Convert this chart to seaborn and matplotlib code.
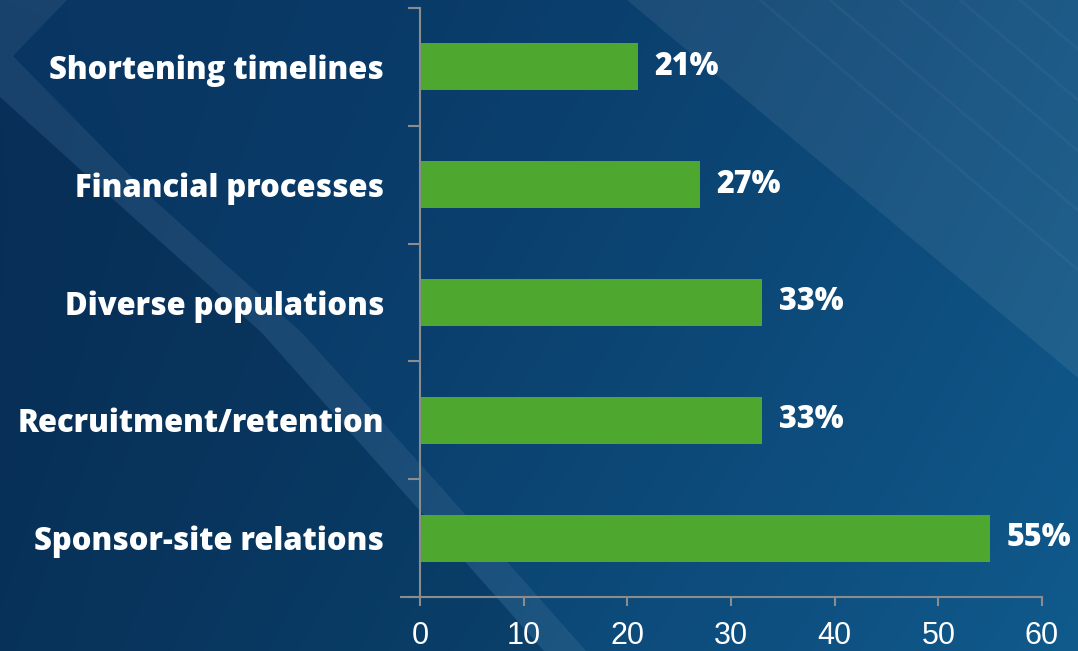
import numpy as np
import pandas as pd
import matplotlib
matplotlib.use("Agg")
import matplotlib.pyplot as plt
from matplotlib.patches import Polygon
import seaborn as sns

# data
categories = ["Shortening timelines", "Financial processes", "Diverse populations",
              "Recruitment/retention", "Sponsor-site relations"]
values = [21, 27, 33, 33, 55]
value_labels = ["21%", "27%", "33%", "33%", "55%"]
x_ticks = [0, 10, 20, 30, 40, 50, 60]

df = pd.DataFrame({"category": categories, "value": values})

sns.set_style("ticks")
plt.rcParams["font.family"] = ["Open Sans", "DejaVu Sans"]

W, H = 1078, 651
fig = plt.figure(figsize=(W / 100, H / 100), dpi=100)

# background: blue gradient with diagonal light bands
bg = fig.add_axes([0, 0, 1, 1], zorder=0)
yy, xx = np.mgrid[0:H, 0:W]
t = np.clip(0.75 * xx / W + 0.25 * yy / H, 0, 1)
dark = np.array([0x06, 0x2c, 0x56]) / 255
light = np.array([0x10, 0x5a, 0x8c]) / 255
top_tint = np.array([0x0c, 0x3f, 0x6e]) / 255
img = dark + (light - dark) * t[..., None]
vert = (1 - yy / H)[..., None] * (1 - xx / W)[..., None]
img = img * (1 - 0.5 * vert) + top_tint * 0.5 * vert
bg.imshow(img, extent=[0, W, H, 0], aspect="auto", interpolation="bilinear")
bg.set_xlim(0, W)
bg.set_ylim(H, 0)
bg.axis("off")

# darker lower-left area under the band
bg.add_patch(Polygon([[0, 97], [114, 200], [262, 333], [381, 467], [499, 600], [544, H], [0, H]],
                     closed=True, facecolor="black", alpha=0.10, lw=0))
# right lighter region
bg.add_patch(Polygon([[627, 0], [W, 0], [W, 378]], closed=True,
                     facecolor="white", alpha=0.07, lw=0))
# diagonal band from top-left
bg.add_patch(Polygon([[0, 0], [67, 0], [13, 56], [154, 200], [302, 333], [423, 467],
                      [541, 600], [586, H], [544, H], [499, 600], [381, 467],
                      [262, 333], [114, 200], [0, 97]],
                     closed=True, facecolor="white", alpha=0.065, lw=0))
# faint streaks top right
for x0 in [760, 830, 900, 960, 1020]:
    bg.plot([x0, x0 + 330], [0, 280], color="white", alpha=0.035, lw=2)

# main chart
ax = fig.add_axes([420 / W, 1 - 597 / H, 622 / W, 589 / H], zorder=2)
ax.set_facecolor("none")
sns.barplot(data=df, x="value", y="category", orient="h", color="#4ea72e",
            saturation=1, width=0.4, linewidth=0, ax=ax)

ax.bar_label(ax.containers[0], labels=value_labels, padding=12,
             color="white", fontsize=22, fontweight="heavy")

ax.set_xlim(0, 60)
ax.set_ylim(len(categories) - 0.5, -0.5)
ax.set_xticks(x_ticks)
ax.set_xlabel("")
ax.set_ylabel("")

axis_grey = "#8c8c8c"
for side in ["top", "right"]:
    ax.spines[side].set_visible(False)
for side in ["left", "bottom"]:
    ax.spines[side].set_color(axis_grey)
    ax.spines[side].set_linewidth(1.5)
ax.spines["bottom"].set_bounds(-1.85, 60)

ax.tick_params(axis="x", colors=axis_grey, length=6.5, width=1.5, pad=11,
               labelcolor="white", labelsize=22)
for lab in ax.get_xticklabels():
    lab.set_family(["Liberation Sans Narrow", "Liberation Sans", "DejaVu Sans"])

ax.tick_params(axis="y", which="major", length=0, pad=26, labelcolor="white", labelsize=22.3)
for lab in ax.get_yticklabels():
    lab.set_fontweight("heavy")
ax.set_yticks(np.arange(-0.5, len(categories), 1.0), minor=True)
ax.tick_params(axis="y", which="minor", length=8.5, width=1.5, color=axis_grey)

fig.savefig("out.png", dpi=100, facecolor=fig.get_facecolor())
